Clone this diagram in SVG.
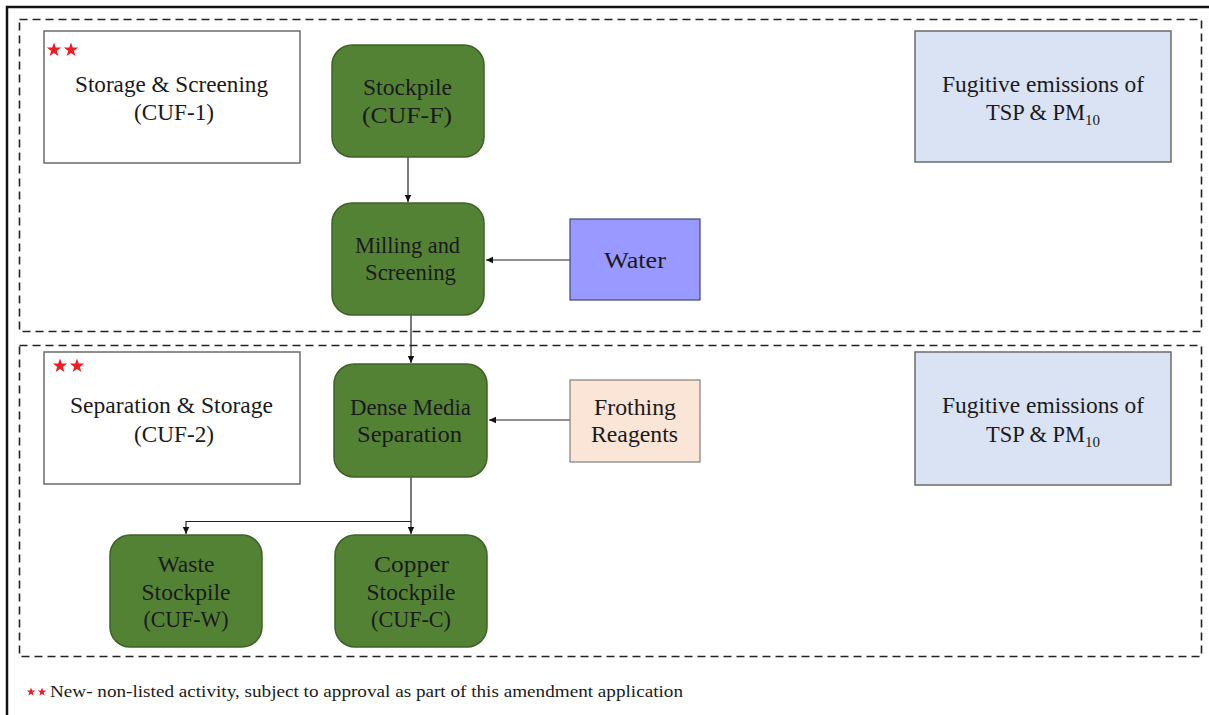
<svg xmlns="http://www.w3.org/2000/svg" width="1209" height="715" viewBox="0 0 1209 715">
  <style>
    .t { font-family: "Liberation Serif", "Times New Roman", serif; font-size: 22.5px; fill: #1a1a1a; text-anchor: middle; }
    .g { fill: #548235; stroke: #3d6127; stroke-width: 1.5; }
    .w { fill: #ffffff; stroke: #6b6b6b; stroke-width: 1.5; }
    .fug { fill: #dae3f3; stroke: #6b6b6b; stroke-width: 1.5; }
    .wat { fill: #9999ff; stroke: #3a4a7a; stroke-width: 1.2; }
    .fro { fill: #fbe5d6; stroke: #7f7f7f; stroke-width: 1.2; }
    .zone { fill: none; stroke: #222; stroke-width: 1.6; stroke-dasharray: 8 5; }
    .c { fill: none; stroke: #222; stroke-width: 1.2; }
    .star { fill: #ee1c24; }
  </style>
  <defs>
    <marker id="ah" markerWidth="8" markerHeight="8" refX="7" refY="4" orient="auto" markerUnits="userSpaceOnUse">
      <path d="M0,0.8 L7,4 L0,7.2 z" fill="#111"/>
    </marker>
    <!-- five-point stars, large (zone tags) and small (legend) -->
    <path id="st" d="M0,-7.5 L1.8,-2.4 L7.1,-2.4 L2.8,0.9 L4.4,6.1 L0,2.9 L-4.4,6.1 L-2.8,0.9 L-7.1,-2.4 L-1.8,-2.4 z"/>
    <path id="sts" d="M0,-4.5 L1.1,-1.4 L4.3,-1.4 L1.7,0.5 L2.6,3.7 L0,1.7 L-2.6,3.7 L-1.7,0.5 L-4.3,-1.4 L-1.1,-1.4 z"/>
  </defs>

  <rect width="1209" height="715" fill="#ffffff"/>

  <!-- outer frame -->
  <path d="M7,715 V7 H1209" fill="none" stroke="#111" stroke-width="2.5"/>

  <!-- zones -->
  <rect class="zone" x="19.5" y="19.5" width="1182" height="312"/>
  <rect class="zone" x="19.5" y="345.5" width="1182" height="311"/>

  <!-- connectors -->
  <g id="connectors">
    <line class="c" x1="408" y1="157" x2="408" y2="202" marker-end="url(#ah)"/>
    <line class="c" x1="570" y1="260" x2="486" y2="260" marker-end="url(#ah)"/>
    <line class="c" x1="411" y1="315" x2="411" y2="363" marker-end="url(#ah)"/>
    <line class="c" x1="570" y1="420" x2="489" y2="420" marker-end="url(#ah)"/>
    <line class="c" x1="411" y1="477" x2="411" y2="534" marker-end="url(#ah)"/>
    <path class="c" d="M411,521.5 H186 V534" marker-end="url(#ah)"/>
  </g>

  <!-- upper zone -->
  <g id="cuf1">
    <rect class="w" x="44" y="31" width="256" height="132"/>
    <use href="#st" x="54" y="50" class="star"/>
    <use href="#st" x="71" y="50" class="star"/>
    <text class="t" x="171.5" y="92" textLength="193" lengthAdjust="spacingAndGlyphs">Storage &amp; Screening</text>
    <text class="t" x="174" y="120" textLength="80" lengthAdjust="spacingAndGlyphs">(CUF-1)</text>
  </g>
  <g id="stockpile-f">
    <rect class="g" x="332" y="45" width="152" height="112" rx="20"/>
    <text class="t" x="407.5" y="95" textLength="89" lengthAdjust="spacingAndGlyphs">Stockpile</text>
    <text class="t" x="407" y="123" textLength="90" lengthAdjust="spacingAndGlyphs">(CUF-F)</text>
  </g>
  <g id="milling">
    <rect class="g" x="332" y="203" width="152" height="112" rx="20"/>
    <text class="t" x="407.5" y="253" textLength="105" lengthAdjust="spacingAndGlyphs">Milling and</text>
    <text class="t" x="410.5" y="280" textLength="91" lengthAdjust="spacingAndGlyphs">Screening</text>
  </g>
  <g id="water">
    <rect class="wat" x="570" y="219" width="130" height="81"/>
    <text class="t" x="635" y="268" textLength="62" lengthAdjust="spacingAndGlyphs">Water</text>
  </g>
  <g id="fugitive-1">
    <rect class="fug" x="915" y="31" width="256" height="131"/>
    <text class="t" x="1043" y="92" textLength="202" lengthAdjust="spacingAndGlyphs">Fugitive emissions of</text>
    <text class="t" x="1043" y="120">TSP &amp; PM<tspan font-size="15" dy="5">10</tspan></text>
  </g>

  <!-- lower zone -->
  <g id="cuf2">
    <rect class="w" x="44" y="352" width="256" height="132"/>
    <use href="#st" x="60" y="366" class="star"/>
    <use href="#st" x="77" y="366" class="star"/>
    <text class="t" x="171.5" y="413" textLength="203" lengthAdjust="spacingAndGlyphs">Separation &amp; Storage</text>
    <text class="t" x="174" y="442" textLength="80" lengthAdjust="spacingAndGlyphs">(CUF-2)</text>
  </g>
  <g id="dms">
    <rect class="g" x="334" y="364" width="153" height="113" rx="20"/>
    <text class="t" x="410.5" y="415" textLength="121" lengthAdjust="spacingAndGlyphs">Dense Media</text>
    <text class="t" x="409.5" y="442" textLength="105" lengthAdjust="spacingAndGlyphs">Separation</text>
  </g>
  <g id="frothing">
    <rect class="fro" x="570" y="380" width="130" height="82"/>
    <text class="t" x="635" y="415" textLength="82" lengthAdjust="spacingAndGlyphs">Frothing</text>
    <text class="t" x="634.5" y="442" textLength="87" lengthAdjust="spacingAndGlyphs">Reagents</text>
  </g>
  <g id="fugitive-2">
    <rect class="fug" x="915" y="352" width="256" height="133"/>
    <text class="t" x="1043" y="413" textLength="202" lengthAdjust="spacingAndGlyphs">Fugitive emissions of</text>
    <text class="t" x="1043" y="442">TSP &amp; PM<tspan font-size="15" dy="5">10</tspan></text>
  </g>
  <g id="waste">
    <rect class="g" x="110" y="535" width="152" height="112" rx="20"/>
    <text class="t" x="186" y="572" textLength="57" lengthAdjust="spacingAndGlyphs">Waste</text>
    <text class="t" x="186" y="600" textLength="89" lengthAdjust="spacingAndGlyphs">Stockpile</text>
    <text class="t" x="186" y="627" textLength="85" lengthAdjust="spacingAndGlyphs">(CUF-W)</text>
  </g>
  <g id="copper">
    <rect class="g" x="335" y="535" width="152" height="112" rx="20"/>
    <text class="t" x="411.5" y="572" textLength="75" lengthAdjust="spacingAndGlyphs">Copper</text>
    <text class="t" x="411" y="600" textLength="89" lengthAdjust="spacingAndGlyphs">Stockpile</text>
    <text class="t" x="411" y="627" textLength="80" lengthAdjust="spacingAndGlyphs">(CUF-C)</text>
  </g>

  <!-- footnote -->
  <g id="legend">
    <use href="#sts" x="31" y="692" class="star"/>
    <use href="#sts" x="42" y="692" class="star"/>
    <text x="50" y="697" font-family="'Liberation Serif', 'Times New Roman', serif" font-size="16.5" fill="#1a1a1a" textLength="633" lengthAdjust="spacingAndGlyphs">New- non-listed activity, subject to approval as part of this amendment application</text>
  </g>
</svg>
